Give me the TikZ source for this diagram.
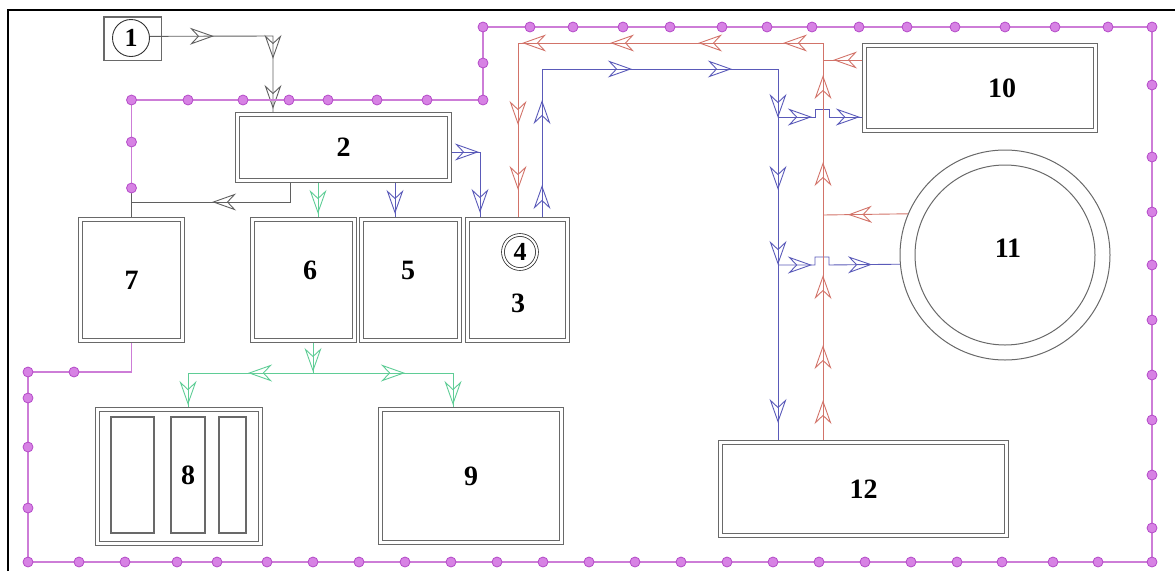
\documentclass[tikz,border=0pt]{standalone}
\usepackage{fontspec}
\setmainfont{Liberation Serif}
\usetikzlibrary{arrows.meta,calc,decorations.markings}
\definecolor{boxgrey}{RGB}{105,105,105}
\definecolor{greyflow}{RGB}{95,95,95}
\definecolor{blueflow}{RGB}{90,90,185}
\definecolor{redflow}{RGB}{210,115,105}
\definecolor{greenflow}{RGB}{95,205,150}
\definecolor{pinkline}{RGB}{205,125,215}
\definecolor{pinkdot}{RGB}{215,130,228}
\definecolor{pinkdotdark}{RGB}{180,75,200}
\tikzset{
	flow/.tip={Stealth[open,length=24pt,width=17pt,inset=8pt]},   % hollow flow arrow
	arr/.style={postaction={decorate,decoration={markings,mark=at position #1 with {\arrow{flow}}}}},
	dbox/.style={draw=boxgrey,line width=1.1pt,double=white,double distance=3pt,outer sep=2.6pt,inner sep=0pt},
	num/.style={font=\fontsize{28}{30}\selectfont\bfseries},
	greyline/.style={draw=greyflow,line width=0.9pt},
	blueline/.style={draw=blueflow,line width=0.9pt},
	redline/.style={draw=redflow,line width=0.9pt},
	greenline/.style={draw=greenflow,line width=0.9pt},
	pipe/.style={draw=pinkline,line width=1.4pt},
	pdot/.style={fill=pinkdot,draw=pinkdotdark,line width=0.8pt}
}

\begin{document}
\begin{tikzpicture}[x=1pt,y=-1pt]
	\useasboundingbox (0,0) rectangle (1175,571);
	% frame of the sheet
	\draw[line width=1.6pt] (8,571) -- (8,10) -- (1175,10);
	
	% units
	\node[draw=boxgrey,line width=1.5pt,minimum width=57.5pt,minimum height=43.5pt] (b1) at (132.5,38.5) {};
	\node[circle,draw=black!80,line width=0.9pt,minimum size=37pt,inner sep=0pt,font=\fontsize{26}{28}\selectfont\bfseries] (c1) at (131,38) {1};
	\node[dbox,num,minimum width=211.6pt,minimum height=65.6pt] (b2) at (343.5,147.5) {2};
	\node[dbox,num,minimum width=101.6pt,minimum height=120.6pt] (b7) at (131.5,280) {7};
	\node[dbox,minimum width=101.6pt,minimum height=120.6pt] (b6) at (303.5,280) {};
	\node[num] (n6) at (310,270) {6};
	\node[dbox,minimum width=97.6pt,minimum height=120.6pt] (b5) at (410.5,280) {};
	\node[num] (n5) at (408,270) {5};
	\node[dbox,minimum width=99.6pt,minimum height=120.6pt] (b3) at (517.5,280) {};
	\node[circle,draw=black!80,line width=0.8pt,double=white,double distance=2pt,minimum size=34pt,inner sep=0pt,font=\fontsize{26}{28}\selectfont\bfseries] (c4) at (520,252) {4};
	\node[num] (n3) at (518,303) {3};
	\node[dbox,minimum width=162.6pt,minimum height=133.6pt] (b8) at (179,476.5) {};
	\node[draw=boxgrey,line width=1.1pt,minimum width=43pt,minimum height=116pt] (r8a) at (132.5,475) {};
	\node[draw=boxgrey,line width=1.1pt,minimum width=34pt,minimum height=116pt,num] (r8b) at (188,475) {8};
	\node[draw=boxgrey,line width=1.1pt,minimum width=27pt,minimum height=116pt] (r8c) at (232.5,475) {};
	\node[dbox,num,minimum width=180.6pt,minimum height=132.6pt] (b9) at (471,476) {9};
	\node[dbox,minimum width=230.6pt,minimum height=84.6pt] (b10) at (980,88) {};
	\node[num] (n10) at ([xshift=22pt]b10.center) {10};
	\node[circle,draw=boxgrey,line width=1pt,minimum size=210pt,num] (b11) at (1005,255) {};
	\node[num] (n11) at (1008,248) {11};
	\draw[boxgrey,line width=1pt] (b11.center) circle (90pt);
	\node[dbox,num,minimum width=285.6pt,minimum height=92.6pt] (b12) at (863.5,489) {12};
	
	% turning points
	\coordinate (t1) at (273,36);
	\coordinate (g1) at (290,202);
	\coordinate (p0) at (131.5,190);
	\coordinate (xg) at (318,0);
	\coordinate (xb) at (395,0);
	\coordinate (bb1) at (480,152);
	\coordinate (gj) at (313,373);
	\coordinate (x8) at (188,0);
	\coordinate (x9) at (453,0);
	\coordinate (bu1) at (542,69);
	\coordinate (bu2) at (778,69);
	\coordinate (bj1) at (778,117);
	\coordinate (bj2) at (778,265);
	\coordinate (r1) at (823,43);
	\coordinate (r2) at (518,43);
	\coordinate (rr1) at (823,60);
	\coordinate (rr2) at (823,215);
	
	% grey feed
	\draw[greyline,arr=64pt,arr=146pt,arr=196pt] (c1.5) -- (t1) -- (t1 |- b2.north);
	\draw[greyline,arr=97pt] (b2.south -| g1) -- (g1) -- (g1 -| b7.north) -- (b7.north);
	\draw[greyline] (g1 -| b7.north) -- (p0);
	
	% green flow
	\draw[greenline,arr=31pt] (b2.south -| xg) -- (b6.north -| xg);
	\draw[greenline,arr=29pt] (b6.south -| gj) -- (gj);
	\draw[greenline,arr=65pt,arr=157pt] (gj) -- (gj -| x8) -- (b8.north -| x8);
	\draw[greenline,arr=92pt,arr=172pt] (gj) -- (gj -| x9) -- (b9.north -| x9);
	
	% blue flow
	\draw[blueline,arr=31pt] (b2.south -| xb) -- (b5.north -| xb);
	\draw[blueline,arr=27pt,arr=89pt] (b2.east |- bb1) -- (bb1) -- (bb1 |- b3.north);
	\draw[blueline,arr=32pt,arr=117pt,arr=238pt,arr=338pt,arr=433pt,arr=505pt,arr=580pt,arr=738pt]
		(b3.north -| bu1) -- (bu1) -- (bu2) -- (bu2 |- b12.north);
	\draw[blueline,arr=34pt,arr=98pt] (bj1) -- ++(37,0) -- ++(0,-8) -- ++(14,0) -- ++(0,8) -- (b10.west |- bj1);
	\draw[blueline,arr=34pt,arr=110pt] (bj2) -- ++(37,0) -- ++(0,-8) -- ++(14,0) -- ++(0,8) -- (b11.185.5);
	
	% red return
	\draw[redline,arr=40pt,arr=95pt,arr=165pt,arr=278pt,arr=365pt,arr=437pt,arr=522pt,arr=610pt,arr=698pt,arr=784pt,arr=849pt]
		(b12.north -| r1) -- (r1) -- (r2) -- (r2 |- b3.north);
	\draw[redline,arr=29pt] (b10.west |- rr1) -- (rr1);
	\draw[redline,arr=60pt] (b11.157.6) -- (rr2);
	
	% pink loop
	\draw[pipe] (p0) -- (131.5,100) -- (483,100) -- (483,27) -- (1152,27) -- (1152,562)
		-- (28,562) -- (28,372) -- (131.5,372) -- (b7.south);
	\foreach \y in {188,142,100} \filldraw[pdot] (131.5,\y) circle (5pt);
	\foreach \x in {188,243,289,328,377,427,483} \filldraw[pdot] (\x,100) circle (5pt);
	\foreach \y in {63,27} \filldraw[pdot] (483,\y) circle (5pt);
	\foreach \x in {530,573,623,670,722,767,812,859,907,955,1005,1055,1108,1152} \filldraw[pdot] (\x,27) circle (5pt);
	\foreach \y in {85,157,212,265,320,375,420,475,528,562} \filldraw[pdot] (1152,\y) circle (5pt);
	\foreach \x in {28,79,125,177,217,267,313,359,405,451,497,543,589,635,681,727,773,819,865,911,957,1002,1053,1098} \filldraw[pdot] (\x,562) circle (5pt);
	\foreach \y in {508,447,398,372} \filldraw[pdot] (28,\y) circle (5pt);
	\filldraw[pdot] (74,372) circle (5pt);
	
\end{tikzpicture}
\end{document}
